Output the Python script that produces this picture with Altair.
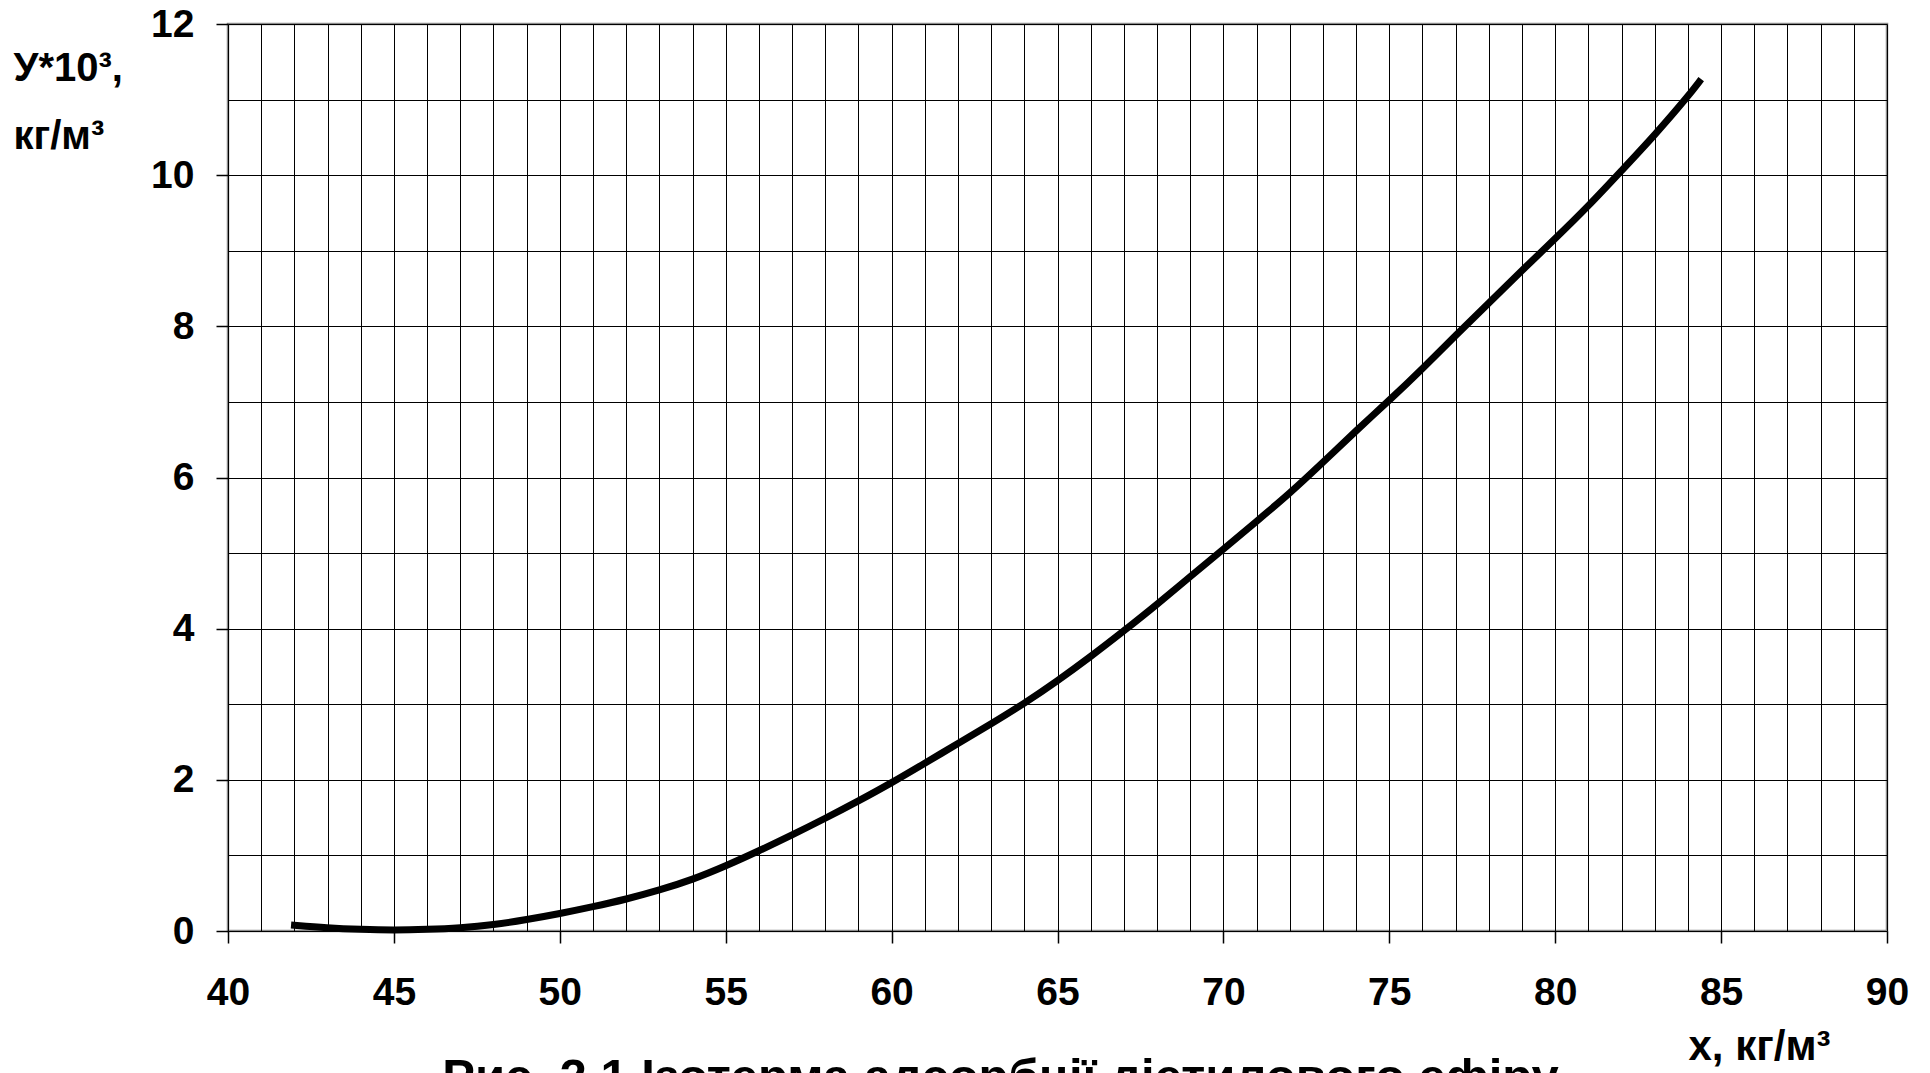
import altair as alt
import pandas as pd

# Data
x_vals = [41.9, 43, 44, 45, 46, 47, 48, 49, 50, 51, 52, 53, 54, 55, 56, 57, 58, 59,
          60, 61, 62, 63, 64, 65, 66, 67, 68, 69, 70, 71, 72, 73, 74, 75, 76, 77,
          78, 79, 80, 81, 82, 83, 84, 84.4]
y_vals = [0.08, 0.04, 0.02, 0.01, 0.02, 0.04, 0.08, 0.15, 0.23, 0.32, 0.42, 0.54,
          0.68, 0.86, 1.06, 1.27, 1.49, 1.72, 1.96, 2.22, 2.48, 2.74, 3.01, 3.31,
          3.63, 3.97, 4.32, 4.69, 5.05, 5.42, 5.79, 6.20, 6.62, 7.02, 7.44, 7.88,
          8.31, 8.74, 9.16, 9.59, 10.06, 10.53, 11.04, 11.27]

x_grid = list(range(40, 91))
y_grid = list(range(0, 13))

x_title = "х, кг/м³"
y_title = ["У*10³,", "кг/м³"]
caption = "Рис. 2.1 Ізотерма адсорбції діетилового ефіру"

df = pd.DataFrame({"x": x_vals, "y": y_vals})

FONT = "Liberation Sans"

x_axis = alt.Axis(
    values=x_grid,
    grid=True, gridColor="black", gridWidth=1,
    domain=False,
    tickSize=12, tickColor="black", tickWidth=1.5,
    tickOpacity={"condition": {"test": "datum.value % 5 === 0", "value": 1}, "value": 0},
    labelExpr="datum.value % 5 === 0 ? datum.label : ''",
    labelOverlap=False, labelFlush=False,
    labelFont=FONT, labelFontSize=39, labelFontWeight="bold", labelColor="black",
    labelPadding=30,
    title=x_title, titleFont=FONT, titleFontSize=42, titleFontWeight="bold",
    titleColor="black", titleAlign="left", titleBaseline="alphabetic",
    titleAnchor="start", titleX=1460, titleY=128,
)

y_axis = alt.Axis(
    values=y_grid,
    grid=True, gridColor="black", gridWidth=1,
    domain=False,
    tickSize=12, tickColor="black", tickWidth=1.5,
    tickOpacity={"condition": {"test": "datum.value % 2 === 0", "value": 1}, "value": 0},
    labelExpr="datum.value % 2 === 0 ? datum.label : ''",
    labelOverlap=False, labelFlush=False,
    labelFont=FONT, labelFontSize=39, labelFontWeight="bold", labelColor="black",
    labelPadding=22,
    title=y_title, titleFont=FONT, titleFontSize=40, titleFontWeight="bold",
    titleColor="black", titleAngle=0, titleAlign="left", titleBaseline="alphabetic",
    titleAnchor="start", titleX=-215, titleY=56, titleLineHeight=68,
)

chart = alt.Chart(df).mark_line(
    color="black", strokeWidth=7, interpolate="basis"
).encode(
    x=alt.X("x:Q", scale=alt.Scale(domain=[40, 90], nice=False, zero=False), axis=x_axis),
    y=alt.Y("y:Q", scale=alt.Scale(domain=[0, 12], nice=False), axis=y_axis),
).properties(
    width=1659,
    height=907,
    title=alt.TitleParams(
        caption, orient="bottom", anchor="middle", frame="group", font=FONT,
        fontSize=49, fontWeight="bold", color="black", offset=-13, dx=-57,
    ),
    autosize=alt.AutoSizeParams(type="none"),
    padding={"left": 228, "top": 24, "right": 43, "bottom": 142},
    background="white",
).configure_view(
    stroke="#8a8a8a", strokeWidth=2.5
)

chart.save("out.html", embed_options={"renderer": "svg", "actions": False})
